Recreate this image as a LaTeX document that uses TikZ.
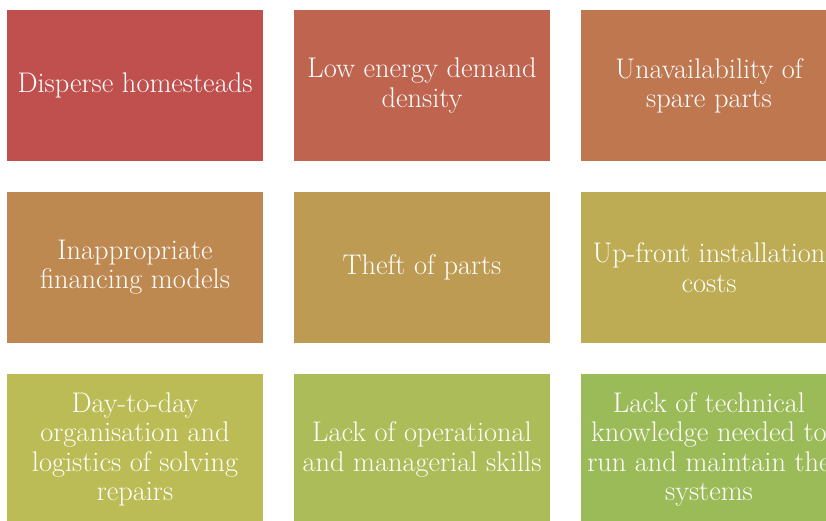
\documentclass[tikz,border=0pt]{standalone}
\usepackage{tikz}
\usetikzlibrary{positioning}

\definecolor{barA}{RGB}{192,80,77}
\definecolor{barB}{RGB}{191,100,78}
\definecolor{barC}{RGB}{191,119,80}
\definecolor{barD}{RGB}{190,137,81}
\definecolor{barE}{RGB}{189,155,83}
\definecolor{barF}{RGB}{189,172,84}
\definecolor{barG}{RGB}{188,188,86}
\definecolor{barH}{RGB}{171,188,88}
\definecolor{barI}{RGB}{155,187,89}

\tikzset{
  barrier/.style={rectangle, minimum width=256bp, minimum height=151bp,
    inner sep=0pt, outer sep=0pt, text=white, align=center,
    font=\fontsize{28.5}{29.5}\selectfont},
}

\begin{document}
\begin{tikzpicture}[x=1bp, y=1bp, node distance = 31bp and 31bp]
  \useasboundingbox (0,0) rectangle (826,-521);
  % first row
  \node (disperse) [barrier, fill=barA, anchor=north west] at (7,-10) {Disperse homesteads};
  \node (density) [barrier, fill=barB, right=of disperse] {Low energy demand\\density};
  \node (spares) [barrier, fill=barC, right=of density] {Unavailability of\\spare parts};
  % second row
  \node (financing) [barrier, fill=barD, below=of disperse] {Inappropriate\\financing models};
  \node (theft) [barrier, fill=barE, below=of density] {Theft of parts};
  \node (upfront) [barrier, fill=barF, below=of spares] {Up-front installation\\costs};
  % third row
  \node (repairs) [barrier, fill=barG, below=of financing] {Day-to-day\\organisation and\\logistics of solving\\repairs};
  \node (skills) [barrier, fill=barH, below=of theft] {Lack of operational\\and managerial skills};
  \node (knowledge) [barrier, fill=barI, below=of upfront] {Lack of technical\\knowledge needed to\\run and maintain the\\systems};
\end{tikzpicture}
\end{document}
